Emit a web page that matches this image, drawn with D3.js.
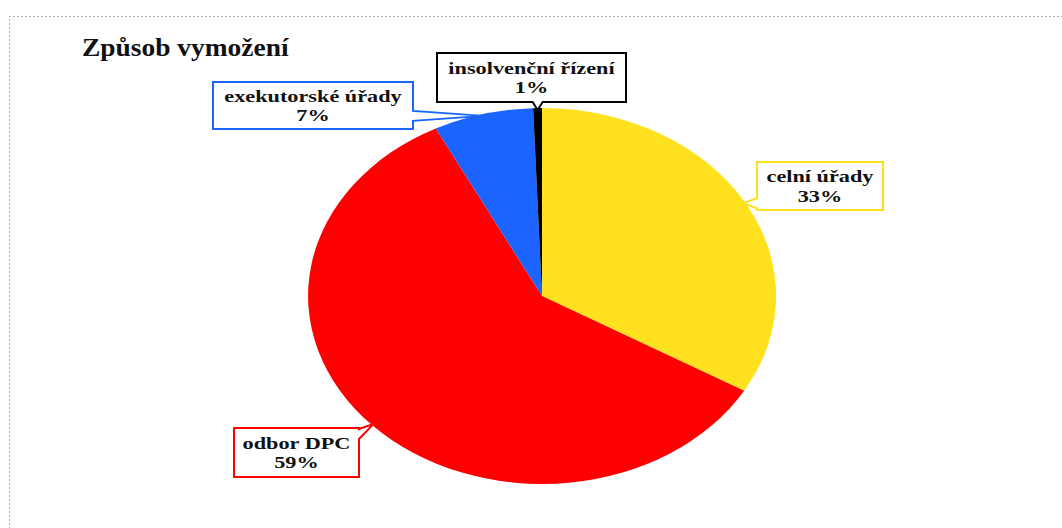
<!DOCTYPE html>
<html>
<head>
<meta charset="utf-8">
<script src="https://cdn.jsdelivr.net/npm/d3@7"></script>
<style>
  body { margin: 0; background: #fff; }
  svg { display: block; }
  text { font-family: "Liberation Serif", "Times New Roman", serif; font-weight: bold; fill: #111; }
</style>
</head>
<body>
<div id="chart"></div>
<script>
// data
const categories = ["celní úřady", "odbor DPC", "exekutorské úřady", "insolvenční řízení"];
const shares = [33.4, 59.1, 6.9, 0.6];
const colors = ["#ffe11f", "#ff0000", "#1c64ff", "#000000"];
const title = "Způsob vymožení";

// callout boxes (layout only)
const boxes = [
    {x: 757, y: 162, w: 126, h: 48},
    {x: 234, y: 428, w: 125, h: 49},
    {x: 213, y: 82, w: 200, h: 47},
    {x: 437, y: 53, w: 189, h: 49}
];

const width = 1062, height = 528;
const cx = 542, cy = 296, rx = 234, ry = 188;

const svg = d3.select("#chart").append("svg")
    .attr("width", width)
    .attr("height", height);

// dotted frame (only top and left visible)
svg.append("path")
    .attr("d", `M9.5,${height + 5}V16.5H${width + 5}`)
    .attr("fill", "none")
    .attr("stroke", "#b0b0b0")
    .attr("stroke-width", 1)
    .attr("stroke-dasharray", "2,2");

svg.append("text")
    .attr("transform", "translate(82,56) scale(1.12,1)")
    .attr("font-size", 24.5)
    .text(title);

const total = d3.sum(shares);
const pct = d3.format(".0%");

const pie = d3.pie().sort(null).value(d => d)(shares);
const arc = d3.arc().innerRadius(0).outerRadius(1);

const g = svg.append("g")
    .attr("transform", `translate(${cx},${cy}) scale(${rx},${ry})`);

g.selectAll("path.slice")
    .data(pie)
    .enter().append("path")
    .attr("class", "slice")
    .attr("d", arc)
    .attr("fill", (d, i) => colors[i]);

// point on the ellipse edge at the middle of each slice
function tipPoint(d) {
    const a = (d.startAngle + d.endAngle) / 2;
    return [cx + rx * 0.99 * Math.sin(a), cy - ry * 0.99 * Math.cos(a)];
}

function calloutPath(b, tip) {
    const [tx, ty] = tip;
    const half = 5, inset = 6;
    const x0 = b.x, y0 = b.y, x1 = b.x + b.w, y1 = b.y + b.h;
    const clamp = (v, lo, hi) => Math.max(lo, Math.min(hi, v));
    if (tx > x1) {
        const c = clamp(ty, y0 + inset, y1 - inset);
        return `M${x0},${y0}H${x1}V${c - half}L${tx},${ty}L${x1},${c + half}V${y1}H${x0}Z`;
    } else if (tx < x0) {
        const c = clamp(ty, y0 + inset, y1 - inset);
        return `M${x0},${y0}H${x1}V${y1}H${x0}V${c + half}L${tx},${ty}L${x0},${c - half}Z`;
    } else if (ty > y1) {
        const c = clamp(tx, x0 + inset, x1 - inset);
        return `M${x0},${y0}H${x1}V${y1}H${c + half}L${tx},${ty}L${c - half},${y1}H${x0}Z`;
    }
    const c = clamp(tx, x0 + inset, x1 - inset);
    return `M${x0},${y0}H${c - half}L${tx},${ty}L${c + half},${y0}H${x1}V${y1}H${x0}Z`;
}

const labels = svg.selectAll("g.callout")
    .data(pie)
    .enter().append("g")
    .attr("class", "callout");

labels.append("path")
    .attr("d", (d, i) => calloutPath(boxes[i], tipPoint(d)))
    .attr("fill", "#fff")
    .attr("stroke", (d, i) => colors[i])
    .attr("stroke-width", 2)
    .attr("stroke-linejoin", "miter");

const txt = labels.append("g")
    .attr("transform", (d, i) => {
        const b = boxes[i];
        return `translate(${b.x + b.w / 2},${b.y + b.h / 2}) scale(1.31,1)`;
    });

txt.append("text")
    .attr("text-anchor", "middle")
    .attr("font-size", 17)
    .attr("y", -4)
    .text((d, i) => categories[i]);

txt.append("text")
    .attr("text-anchor", "middle")
    .attr("font-size", 17)
    .attr("y", 16)
    .text(d => pct(d.data / total));
</script>
</body>
</html>
